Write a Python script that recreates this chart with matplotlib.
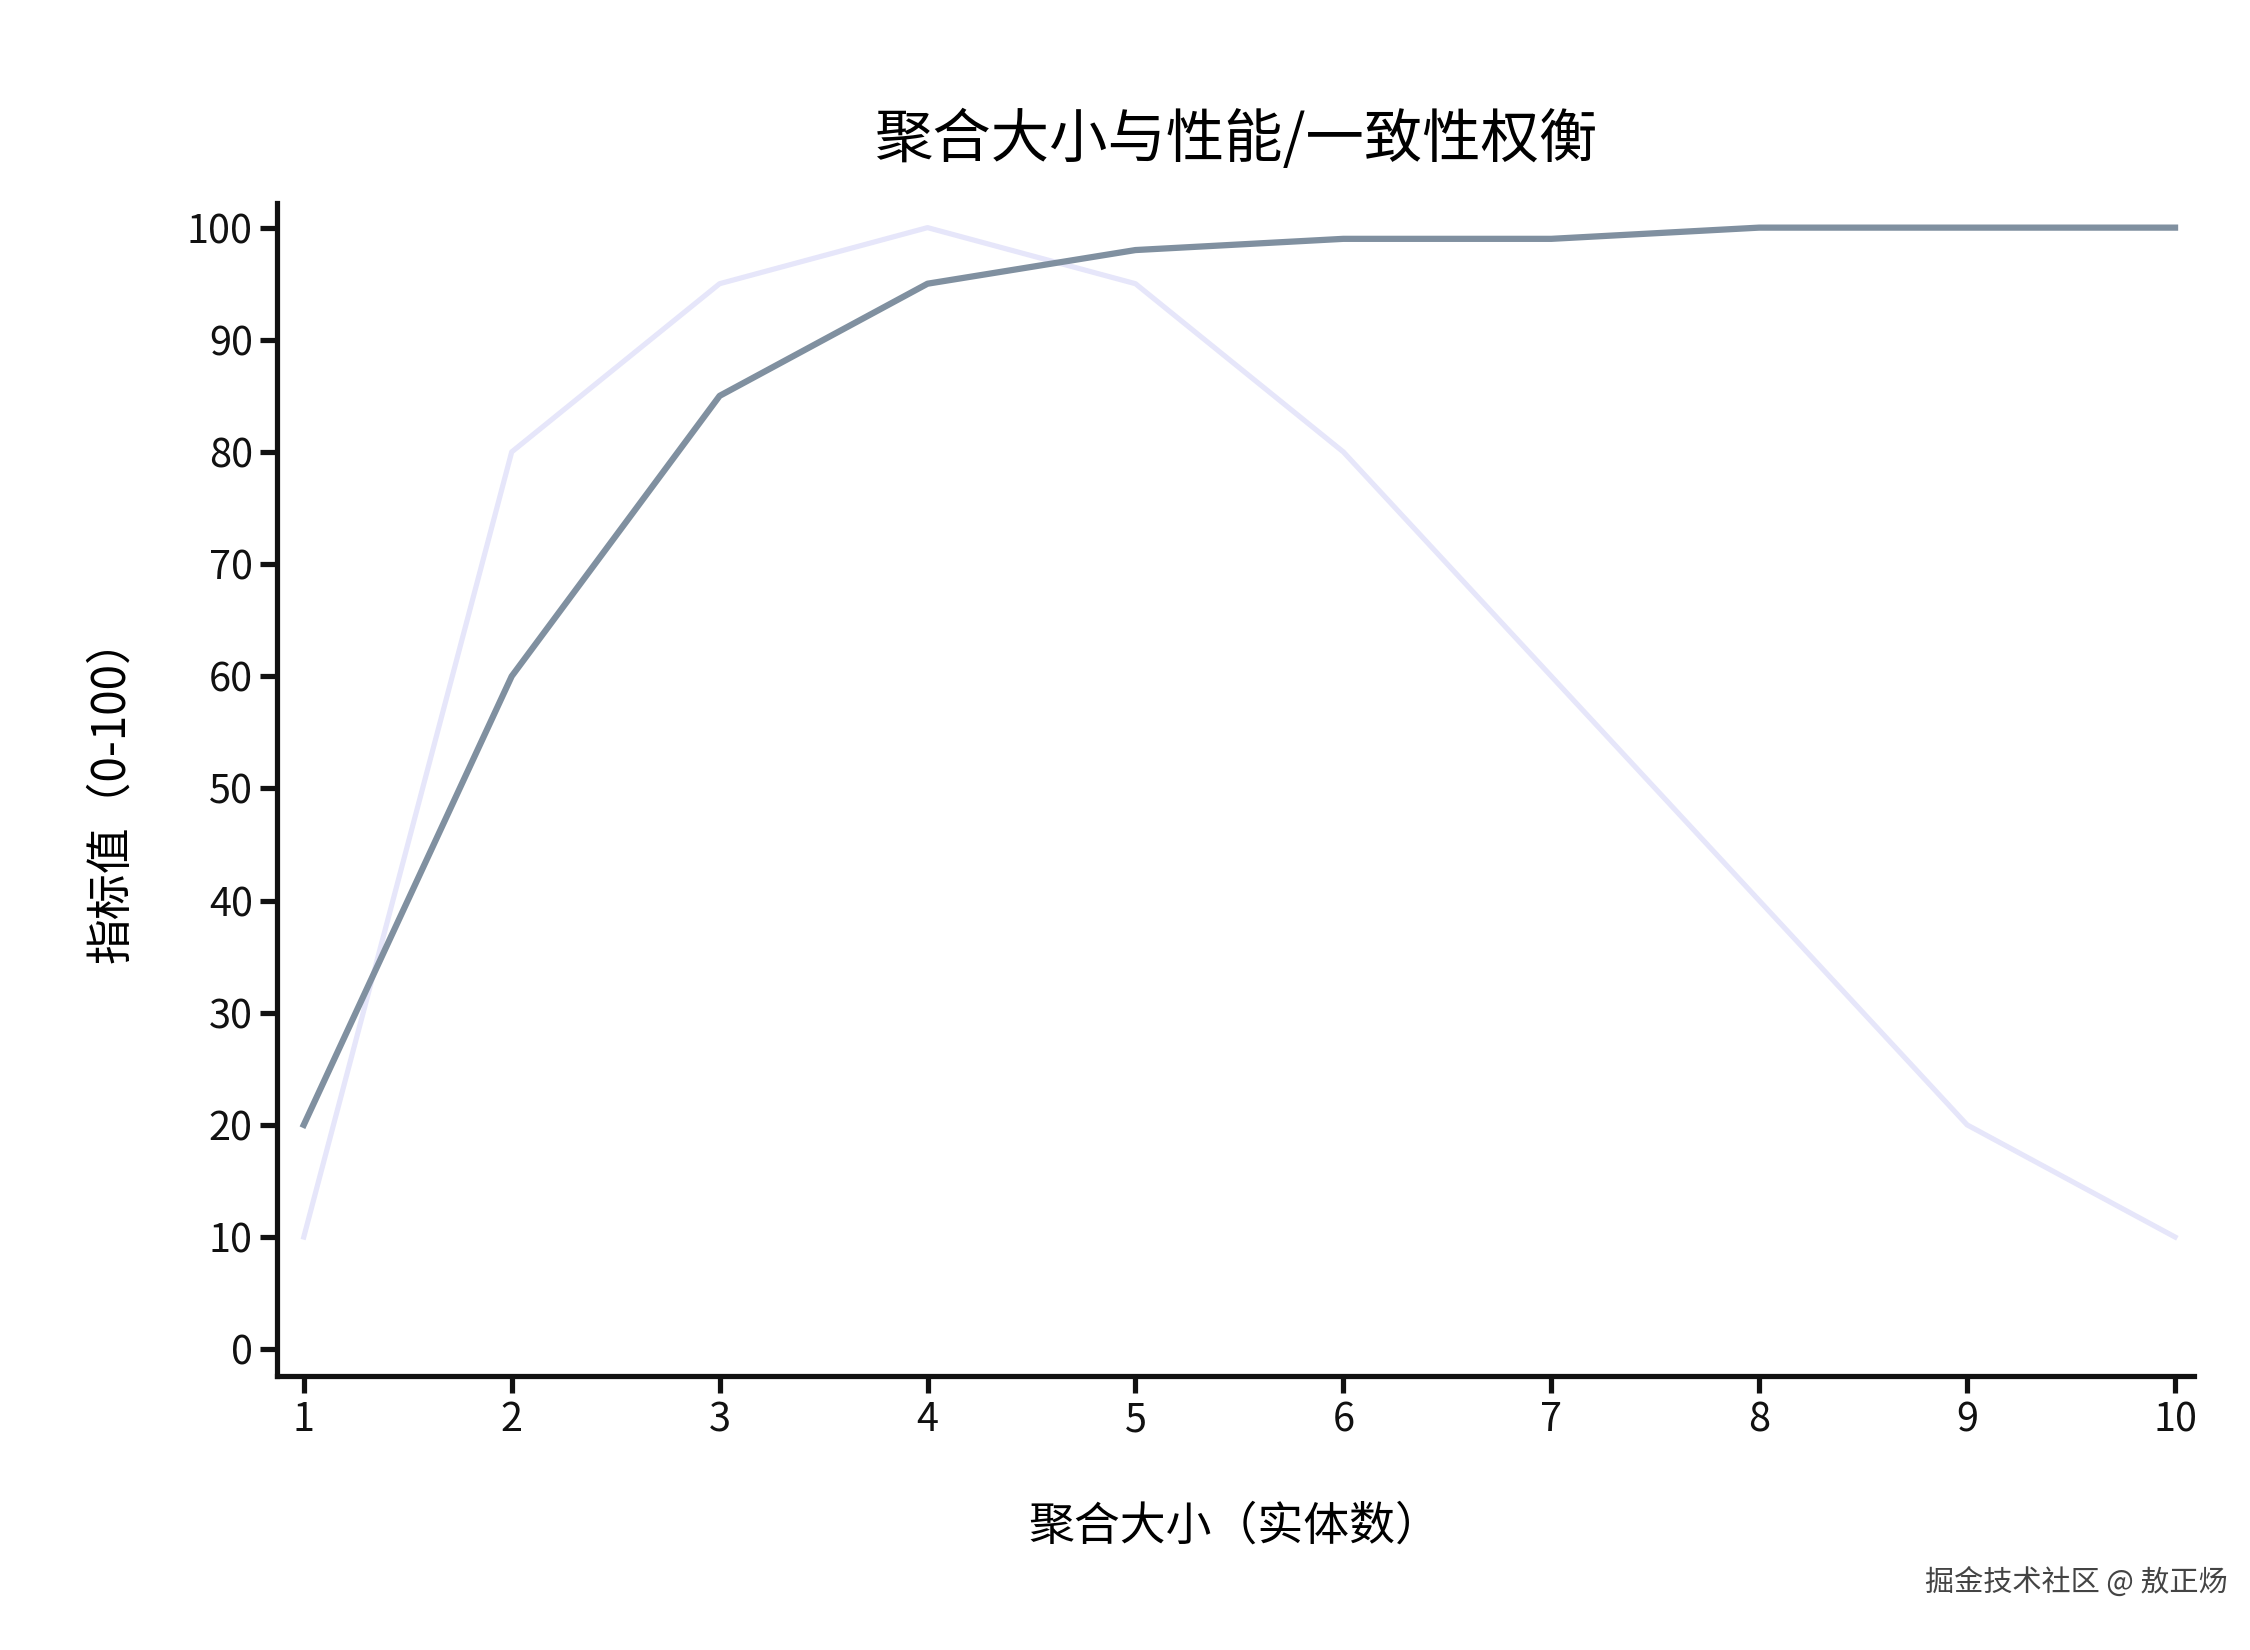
import matplotlib
matplotlib.use("Agg")
import matplotlib.pyplot as plt

plt.rcParams['font.family'] = ['Noto Sans CJK SC', 'DejaVu Sans']

sizes = [1, 2, 3, 4, 5, 6, 7, 8, 9, 10]
consistency = [10, 80, 95, 100, 95, 80, 60, 40, 20, 10]
performance = [20, 60, 85, 95, 98, 99, 99, 100, 100, 100]
yticks = [0, 10, 20, 30, 40, 50, 60, 70, 80, 90, 100]

fig = plt.figure(figsize=(15, 11), dpi=150)
ax = fig.add_axes([0.123, 0.166, 0.852, 0.711])
ax.plot(sizes, consistency, color='#e6e6fa', lw=2.5)
ax.plot(sizes, performance, color='#8090a0', lw=3)
ax.set_xlim(0.87, 10.09)
ax.set_ylim(-2.4, 102.2)
ax.set_xticks(sizes)
ax.set_yticks(yticks)
for s in ['top', 'right']:
    ax.spines[s].set_visible(False)
for s in ['left', 'bottom']:
    ax.spines[s].set_linewidth(2.5)
    ax.spines[s].set_color('#111111')
ax.tick_params(labelsize=19, width=2.5, length=8, colors='#111111')
ax.set_title('聚合大小与性能/一致性权衡', fontsize=28, pad=22)
ax.set_xlabel('聚合大小（实体数）', fontsize=22, labelpad=30)
ax.set_ylabel('指标值（0-100）', fontsize=22, labelpad=25)
fig.text(0.99, 0.041, '掘金技术社区 @ 敖正炀', ha='right', va='center', fontsize=14, color='#444444')
fig.savefig('out.png', dpi=150, facecolor='white')
